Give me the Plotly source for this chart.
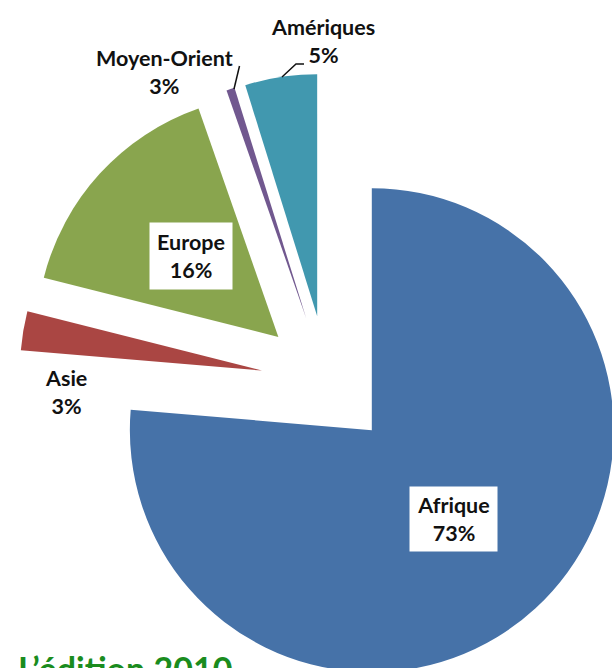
import plotly.graph_objects as go

# ---- data ----
regions = ["Afrique", "Asie", "Europe", "Moyen-Orient", "Amériques"]
shares = [76.3, 2.6, 15.7, 0.55, 4.8]          # visual slice sizes
pct_labels = ["73%", "3%", "16%", "3%", "5%"]  # printed labels
colors = ["#4672A8", "#AA4643", "#89A54E", "#71588F", "#4198AF"]

W, H = 640, 700


def px(x):
    return x / W


def py(y):
    return 1 - y / H


fig = go.Figure()
fig.add_trace(go.Pie(
    labels=regions,
    values=shares,
    sort=False,
    direction="clockwise",
    rotation=0,
    pull=[0.273] * len(regions),
    marker=dict(colors=colors, line=dict(width=0)),
    textinfo="none",
    hoverinfo="label+percent",
    showlegend=False,
    domain=dict(x=[19.1 / W, 635.1 / W], y=[1 - 689.5 / H, 1 - 73.5 / H]),
))

font = dict(family="Lato, 'Open Sans', sans-serif", size=21.5, color="#111111")

# label positions (pixel centres)
label_pos = {
    "Afrique": (453.3, 519.0, True),
    "Asie": (66.0, 392.0, False),
    "Europe": (190.5, 256.0, True),
    "Moyen-Orient": (164.0, 72.0, False),
    "Amériques": (323.0, 41.0, False),
}

annotations = []
for name, pct in zip(regions, pct_labels):
    x, y, boxed = label_pos[name]
    a = dict(
        x=px(x), y=py(y), xref="paper", yref="paper",
        text=f"<b>{name}</b><br><b>{pct}</b>",
        showarrow=False, font=font, align="center",
        xanchor="center", yanchor="middle",
    )
    if boxed:
        a.update(bgcolor="white", borderpad=0,
                 width=87 if name == "Afrique" else 82,
                 height=64 if name == "Afrique" else 66)
    annotations.append(a)

annotations.append(dict(
    x=px(16), y=py(646), xref="paper", yref="paper",
    text="<b>L’édition 2010</b>", showarrow=False,
    font=dict(family="Lato, 'Open Sans', sans-serif", size=34, color="#1A8C1E"),
    xanchor="left", yanchor="top",
))

shapes = [
    dict(type="path", xref="paper", yref="paper",
         path=f"M {px(282)} {py(77)} L {px(296)} {py(64)} L {px(304)} {py(64)}",
         line=dict(color="#111111", width=1.5)),
    dict(type="line", xref="paper", yref="paper",
         x0=px(234), y0=py(89), x1=px(239.5), y1=py(66),
         line=dict(color="#111111", width=1.5)),
]

fig.update_layout(
    width=W, height=H,
    margin=dict(l=0, r=0, t=0, b=0),
    paper_bgcolor="white", plot_bgcolor="white",
    annotations=annotations, shapes=shapes,
    showlegend=False,
)

fig.write_html("out.html")
